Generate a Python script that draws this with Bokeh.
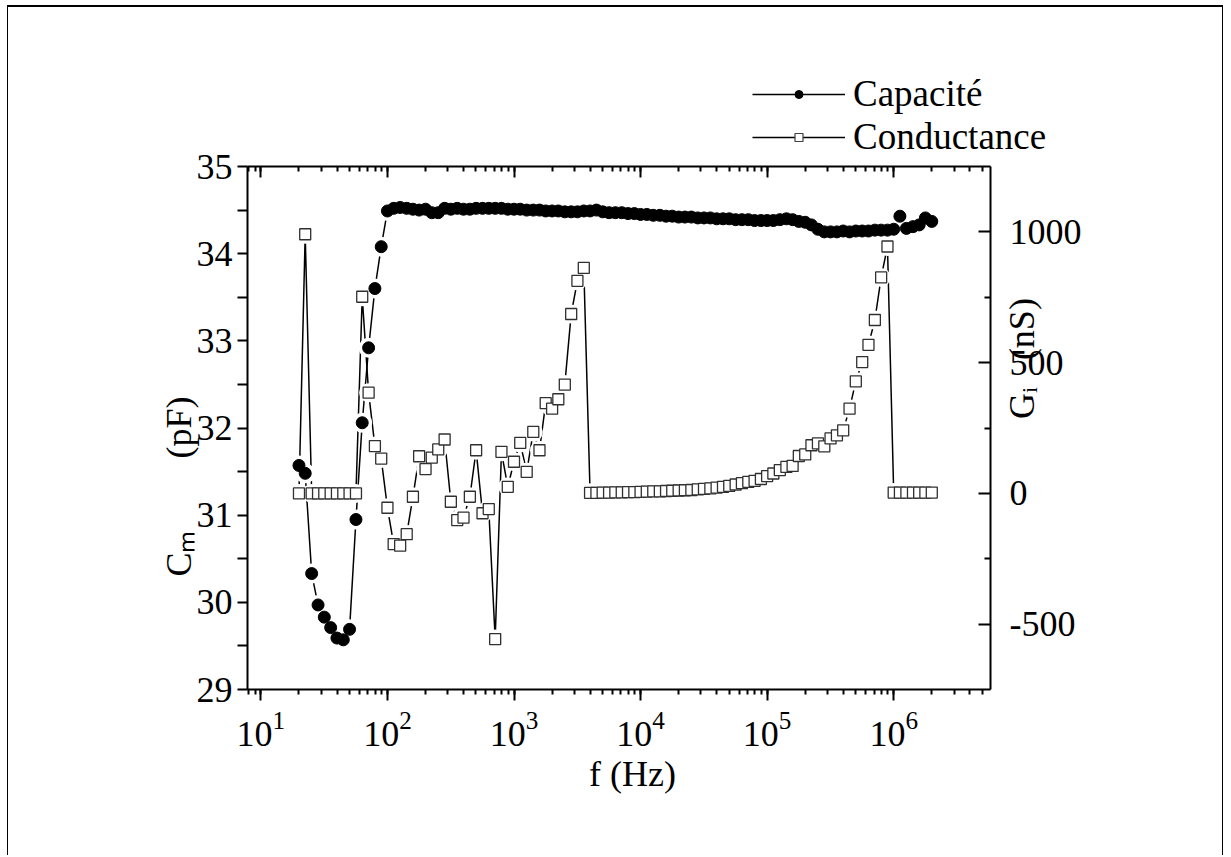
import math
from bokeh.plotting import figure
from bokeh.layouts import column
from bokeh.models import (Range1d, LinearAxis, LogAxis, FixedTicker, LogTicker, Legend,
                          LegendItem, ColumnDataSource, CustomJSTickFormatter)
from bokeh.embed import file_html
from bokeh.resources import INLINE

# ---------------- data ----------------
freq_hz = [20, 22.4, 25.2, 28.3, 31.7, 35.6, 39.9, 44.8, 50.2, 56.4, 63.2, 71.0, 79.6, 89.3, 100, 112, 126, 142, 159, 178,
           200, 224, 252, 283, 317, 356, 399, 448, 502, 564, 632, 710, 796, 893, 1000, 1120, 1260, 1420, 1590, 1780,
           2000, 2240, 2520, 2830, 3170, 3560, 3990, 4480, 5020, 5640, 6320, 7100, 7960, 8930, 10000, 11200, 12600, 14200, 15900, 17800,
           20000, 22400, 25200, 28300, 31700, 35600, 39900, 44800, 50200, 56400, 63200, 71000, 79600, 89300, 100000, 112000, 126000, 142000, 159000, 178000,
           200000, 224000, 252000, 283000, 317000, 356000, 399000, 448000, 502000, 564000, 632000, 710000, 796000, 893000, 1000000, 1120000, 1260000, 1420000, 1590000, 1780000,
           2000000]

capacite_pf = [31.57, 31.48, 30.33, 29.97, 29.83, 29.71, 29.59, 29.57, 29.69, 30.95, 32.06, 32.92, 33.60, 34.08, 34.49,
               34.52, 34.53, 34.52, 34.51, 34.50, 34.51, 34.47, 34.47, 34.52, 34.51, 34.52, 34.51, 34.51, 34.52, 34.52,
               34.52, 34.52, 34.52, 34.51, 34.51, 34.51, 34.50, 34.50, 34.50, 34.49,
               34.49, 34.49, 34.48, 34.48, 34.48, 34.49, 34.49, 34.50, 34.48, 34.47,
               34.47, 34.47, 34.46, 34.46, 34.45, 34.45, 34.44, 34.44, 34.43, 34.43,
               34.42, 34.42, 34.42, 34.41, 34.41, 34.41, 34.40, 34.40, 34.40, 34.39,
               34.39, 34.39, 34.38, 34.38, 34.38, 34.38, 34.39, 34.40, 34.39, 34.37,
               34.36, 34.33, 34.28, 34.25, 34.25, 34.25, 34.26, 34.25, 34.26, 34.26,
               34.26, 34.27, 34.27, 34.27, 34.28, 34.43, 34.29, 34.31, 34.33, 34.41, 34.37]

conductance_ns = [0, 991, 0, 0, 0, 0, 0, 0, 0, 0,
                  752, 385, 181, 133, -55, -194, -200, -156, -13, 142,
                  93, 137, 168, 206, -32, -102, -93, -13, 165, -76,
                  -60, -557, 159, 25, 121, 193, 82, 235, 165, 345,
                  324, 360, 416, 686, 813, 862,
                  2, 2, 3, 3, 4, 4, 5, 5, 6, 7, 8, 8, 9, 10, 11, 12, 13, 15, 17, 19,
                  22, 25, 29, 34, 39, 44, 48, 55, 66, 76, 89, 101, 105, 143, 149, 184,
                  191, 180, 210, 222, 241, 324, 428, 502, 568, 663, 826, 944,
                  3, 3, 3, 3, 3, 3, 3]

cm_ticks = [29, 30, 31, 32, 33, 34, 35]
cm_minor = [29.5, 30.5, 31.5, 32.5, 33.5, 34.5]
g_ticks = [-500, 0, 500, 1000]
g_minor = [-250, 250, 750]
legend_labels = ["Capacité", "Conductance"]

# ---------------- layout (page pixels) ----------------
FONT = "Liberation Serif"
NB = "\u00a0"
X_LO, X_HI = 7.84, 5.82e6
Y_LO, Y_HI = 29, 35
G_LO, G_HI = -750, 1250
W, H_ALL = 1214, 848
TOP_H = 160                      # height of the legend strip above the plot
OVERLAP = 20                     # main plot canvas overlaps the strip by this much
OFF_X, OFF_Y = 8, 7              # canvas offset on page (css margin + border)
FL, FR, FT, FB = 247.3, 990.0, 166.0, 688.7   # frame edges on page
P_OFF_Y = OFF_Y + TOP_H - OVERLAP   # page y of the main canvas top
H = H_ALL - TOP_H + OVERLAP

# ---------------- legend strip ----------------
leg = figure(width=W, height=TOP_H, x_range=Range1d(0, W), y_range=Range1d(TOP_H, 0),
             output_backend="svg", toolbar_location=None,
             x_axis_location=None, y_axis_location=None,
             min_border_left=0, min_border_right=0, min_border_top=0, min_border_bottom=0)
leg.frame_align = False
leg.xgrid.visible = False
leg.ygrid.visible = False
leg.outline_line_color = None
leg.background_fill_color = "white"
leg.border_fill_color = "white"

nodata = ColumnDataSource(dict(x=[float("nan")], y=[float("nan")]))
lc = leg.line("x", "y", source=nodata, line_color="black", line_width=1.3)
mc = leg.scatter("x", "y", source=nodata, marker="circle", size=8, fill_color="black", line_color="black")
lg = leg.line("x", "y", source=nodata, line_color="black", line_width=1.3)
mg = leg.scatter("x", "y", source=nodata, marker="square", size=8, fill_color="white",
                 line_color="#404040", line_width=1.2)

LEG_ROW = 40
LEG_TOP = 78                     # page y of legend top
legend = Legend(items=[LegendItem(label=legend_labels[0], renderers=[lc, mc]),
                       LegendItem(label=legend_labels[1], renderers=[lg, mg])],
                location=(752 - OFF_X, TOP_H - (LEG_TOP - OFF_Y) - 2 * LEG_ROW),
                glyph_width=93, glyph_height=20, label_height=LEG_ROW, spacing=0,
                label_standoff=8, padding=0, margin=0,
                border_line_color=None, background_fill_alpha=0,
                label_text_font=FONT, label_text_font_size="37px", label_text_color="black")
leg.add_layout(legend, "center")

# ---------------- main plot ----------------
p = figure(width=W, height=H, x_axis_type="log",
           x_range=Range1d(X_LO, X_HI), y_range=Range1d(Y_LO, Y_HI),
           output_backend="svg", toolbar_location=None,
           min_border_left=int(round(FL - OFF_X)), min_border_right=int(round(W - (FR - OFF_X))),
           min_border_top=int(round(FT - P_OFF_Y)), min_border_bottom=int(round(H - (FB - P_OFF_Y))))
p.frame_align = False
p.styles = {"margin-top": f"-{OVERLAP}px"}
p.extra_y_ranges = {"g": Range1d(G_LO, G_HI)}
p.xgrid.visible = False
p.ygrid.visible = False
p.outline_line_color = None
p.background_fill_color = "white"
p.border_fill_color = "white"
p.border_fill_alpha = 0


def style_axis(ax):
    ax.axis_line_width = 2
    ax.axis_line_color = "black"
    ax.major_tick_line_width = 2
    ax.minor_tick_line_width = 2
    ax.major_tick_line_color = "black"
    ax.minor_tick_line_color = "black"
    ax.major_label_text_font = FONT
    ax.major_label_text_font_size = "36px"
    ax.major_label_text_color = "black"
    ax.axis_label_text_font = FONT
    ax.axis_label_text_font_size = "36px"
    ax.axis_label_text_font_style = "normal"
    ax.axis_label_text_color = "black"


# bottom axis
xa = p.xaxis[0]
style_axis(xa)
xa.ticker = LogTicker(num_minor_ticks=10)
xa.major_tick_out = 11
xa.major_tick_in = 0
xa.minor_tick_out = 5
xa.minor_tick_in = 0
xa.major_label_standoff = 11
xa.axis_label = NB * 3 + "f (Hz)"
xa.axis_label_standoff = 5

# top mirror axis (ticks only)
xt = LogAxis(ticker=LogTicker(num_minor_ticks=10), formatter=CustomJSTickFormatter(code="return ''"))
style_axis(xt)
xt.major_label_text_font_size = "1px"
xt.major_label_standoff = 0
xt.major_tick_out = 0
xt.major_tick_in = 11
xt.minor_tick_out = 0
xt.minor_tick_in = 5
p.add_layout(xt, "above")

# left axis
ya = p.yaxis[0]
style_axis(ya)
ya.ticker = FixedTicker(ticks=cm_ticks, minor_ticks=cm_minor)
ya.formatter = CustomJSTickFormatter(code="return tick.toString()")
ya.major_tick_out = 10
ya.major_tick_in = 0
ya.minor_tick_out = 10
ya.minor_tick_in = 0
ya.major_label_standoff = 5
ya.axis_label = "C\u2098" + NB * 8 + "(pF)" + NB * 13
ya.axis_label_standoff = -5

# right axis
yr = LinearAxis(y_range_name="g", ticker=FixedTicker(ticks=g_ticks, minor_ticks=g_minor),
                formatter=CustomJSTickFormatter(code="return tick.toString()"))
style_axis(yr)
yr.major_tick_out = 0
yr.major_tick_in = 12
yr.minor_tick_out = 0
yr.minor_tick_in = 6
yr.major_label_standoff = 19
yr.axis_label = NB + "G\u1d62" + NB * 3 + "(nS)"
yr.axis_label_orientation = math.pi / 2
yr.axis_label_standoff = -63
p.add_layout(yr, "right")

# data glyphs
src = ColumnDataSource(dict(f=freq_hz, c=capacite_pf, g=conductance_ns))

p.line("f", "g", source=src, y_range_name="g", line_color="black", line_width=1.5)
p.line("f", "c", source=src, line_color="black", line_width=1.5)
p.scatter("f", "g", source=src, y_range_name="g", marker="circle", size=19,
          fill_color="white", line_color=None)
p.scatter("f", "c", source=src, marker="circle", size=20, fill_color="white", line_color=None)
p.scatter("f", "g", source=src, y_range_name="g", marker="square", size=11,
          fill_color="white", line_color="#303030", line_width=1.3)
p.scatter("f", "c", source=src, marker="circle", size=12, fill_color="black", line_color="black")

page = column(leg, p, spacing=0)
page.styles = {"margin-left": "7px", "margin-top": "5px",
               "border-top": "2px solid black", "border-left": "1px solid black",
               "border-right": "1px solid black"}

open("out.html", "w").write(file_html(page, INLINE))
